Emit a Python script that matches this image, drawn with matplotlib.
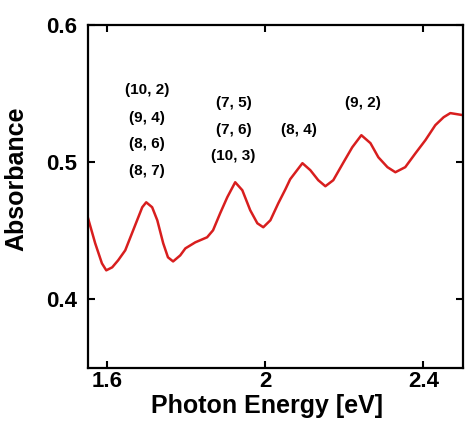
import matplotlib.pyplot as plt

plt.rcParams['font.family'] = ['Liberation Sans', 'DejaVu Sans']
plt.rcParams['font.weight'] = 'bold'

# spectrum
energy = [1.552, 1.570, 1.587, 1.598, 1.613, 1.628, 1.646, 1.663, 1.676, 1.689,
          1.699, 1.714, 1.727, 1.742, 1.754, 1.767, 1.785, 1.798, 1.823, 1.853,
          1.868, 1.886, 1.904, 1.924, 1.942, 1.962, 1.980, 1.995, 2.013, 2.033,
          2.051, 2.063, 2.094, 2.114, 2.134, 2.152, 2.172, 2.198, 2.220, 2.243,
          2.266, 2.286, 2.309, 2.329, 2.354, 2.380, 2.405, 2.430, 2.451, 2.468,
          2.500]
absorbance = [0.4591, 0.4409, 0.4263, 0.4212, 0.4234, 0.4285, 0.4358, 0.4482, 0.4577, 0.4672,
              0.4708, 0.4672, 0.4577, 0.4409, 0.4307, 0.4277, 0.4321, 0.4372, 0.4416, 0.4453,
              0.4504, 0.4628, 0.4745, 0.4854, 0.4796, 0.4650, 0.4555, 0.4526, 0.4577, 0.4701,
              0.4803, 0.4876, 0.4993, 0.4942, 0.4869, 0.4825, 0.4869, 0.5000, 0.5109, 0.5197,
              0.5139, 0.5036, 0.4964, 0.4927, 0.4964, 0.5066, 0.5161, 0.5270, 0.5328, 0.5358,
              0.5343]

# chirality labels (text, x, y)
labels = ['(10, 2)', '(9, 4)', '(8, 6)', '(8, 7)',
          '(7, 5)', '(7, 6)', '(10, 3)', '(8, 4)', '(9, 2)']
label_x = [1.701, 1.701, 1.701, 1.701, 1.921, 1.921, 1.918, 2.084, 2.248]
label_y = [0.5526, 0.532, 0.513, 0.4934, 0.543, 0.5234, 0.5044, 0.5234, 0.543]

fig = plt.figure(figsize=(4.71, 4.24), dpi=100)
ax = fig.add_axes([0.187, 0.132, 0.796, 0.809])

ax.plot(energy, absorbance, color='#d81e1e', lw=1.8)

for t, x, y in zip(labels, label_x, label_y):
    ax.text(x, y, t, ha='center', va='center', fontsize=11, fontweight='bold')

ax.set_xlim(1.552, 2.5)
ax.set_ylim(0.35, 0.6)
ax.set_xticks([1.6, 2.0, 2.4])
ax.set_xticklabels(['1.6', '2', '2.4'])
ax.set_yticks([0.4, 0.5, 0.6])
ax.set_yticklabels(['0.4', '0.5', '0.6'])
ax.tick_params(direction='in', top=True, right=True, length=5, width=1.5,
               labelsize=16)
ax.tick_params(axis='x', pad=2)
ax.tick_params(axis='y', pad=8)
for s in ax.spines.values():
    s.set_linewidth(1.6)

ax.set_xlabel('Photon Energy [eV]', fontsize=18, fontweight='bold', labelpad=2)
ax.xaxis.set_label_coords(0.477, -0.075)
ax.set_ylabel('Absorbance', fontsize=18, fontweight='bold')
ax.yaxis.set_label_coords(-0.16, 0.551)

fig.savefig('out.png', dpi=100)
